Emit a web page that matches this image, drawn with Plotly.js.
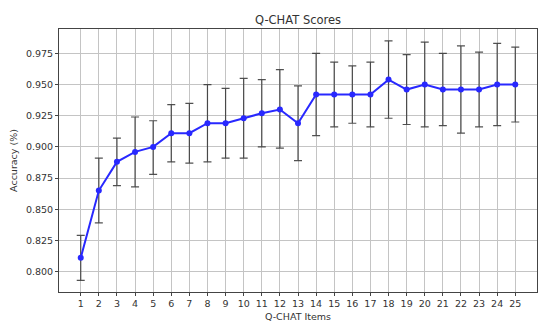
<!DOCTYPE html>
<html>
<head>
<meta charset="utf-8">
<script src="https://cdn.plot.ly/plotly-3.0.1.min.js"></script>
<style>
  html, body { margin: 0; padding: 0; background: #fff; }
  #chart { width: 550px; height: 330px; }
</style>
</head>
<body>
<div id="chart"></div>
<script>
// Q-CHAT item count on x, mean accuracy with min/max bars
const items = [1, 2, 3, 4, 5, 6, 7, 8, 9, 10, 11, 12, 13, 14, 15, 16, 17, 18, 19, 20, 21, 22, 23, 24, 25];
const accuracy = [0.811, 0.865, 0.888, 0.896, 0.900, 0.911, 0.911, 0.919, 0.919, 0.923, 0.927, 0.930, 0.919,
                  0.942, 0.942, 0.942, 0.942, 0.954, 0.946, 0.950, 0.946, 0.946, 0.946, 0.950, 0.950];
const upper = [0.829, 0.891, 0.907, 0.924, 0.921, 0.934, 0.935, 0.950, 0.947, 0.955, 0.954, 0.962, 0.949,
               0.975, 0.968, 0.965, 0.968, 0.985, 0.974, 0.984, 0.975, 0.981, 0.976, 0.983, 0.980];
const lower = [0.793, 0.839, 0.869, 0.868, 0.878, 0.888, 0.887, 0.888, 0.891, 0.891, 0.900, 0.899, 0.889,
               0.909, 0.916, 0.919, 0.916, 0.923, 0.918, 0.916, 0.917, 0.911, 0.916, 0.917, 0.920];
const yTicks = [0.800, 0.825, 0.850, 0.875, 0.900, 0.925, 0.950, 0.975];

const errPlus = upper.map((u, i) => u - accuracy[i]);
const errMinus = lower.map((l, i) => accuracy[i] - l);

const trace = {
    x: items,
    y: accuracy,
    type: 'scatter',
    mode: 'lines+markers',
    line: { color: 'rgb(40, 40, 255)', width: 2 },
    marker: { color: 'rgb(40, 40, 255)', size: 6 },
    error_y: {
        type: 'data',
        symmetric: false,
        array: errPlus,
        arrayminus: errMinus,
        color: 'rgba(50, 50, 50, 0.85)',
        thickness: 1.2,
        width: 4
    },
    showlegend: false
};

const axisFont = { family: 'DejaVu Sans', size: 9.5, color: '#333' };

const layout = {
    width: 550,
    height: 330,
    paper_bgcolor: '#fff',
    plot_bgcolor: '#fff',
    margin: { l: 59, r: 13, t: 29, b: 38 },
    font: { family: 'DejaVu Sans', color: '#333' },
    title: {
        text: 'Q-CHAT Scores',
        font: { family: 'DejaVu Sans', size: 11.5, color: '#333' },
        x: 0.542, xanchor: 'center',
        y: 0.94, yanchor: 'middle'
    },
    xaxis: {
        title: { text: 'Q-CHAT Items', font: { family: 'DejaVu Sans', size: 9.5, color: '#333' }, standoff: 4 },
        range: [-0.2, 26.2],
        tickmode: 'array',
        tickvals: items,
        ticktext: items.map(String),
        tickfont: axisFont,
        ticks: 'outside', ticklen: 3, tickcolor: '#444',
        showgrid: true, gridcolor: '#c4c4c4', gridwidth: 1,
        zeroline: false,
        showline: true, linecolor: '#444', linewidth: 1, mirror: true
    },
    yaxis: {
        title: { text: 'Accuracy (%)', font: { family: 'DejaVu Sans', size: 9.5, color: '#333' }, standoff: 6 },
        range: [0.7836, 0.9946],
        tickmode: 'array',
        tickvals: yTicks,
        ticktext: yTicks.map(v => v.toFixed(3)),
        tickfont: axisFont,
        ticks: 'outside', ticklen: 3, tickcolor: '#444',
        showgrid: true, gridcolor: '#c4c4c4', gridwidth: 1,
        zeroline: false,
        showline: true, linecolor: '#444', linewidth: 1, mirror: true
    }
};

Plotly.newPlot('chart', [trace], layout, { staticPlot: true, displayModeBar: false });
</script>
</body>
</html>
